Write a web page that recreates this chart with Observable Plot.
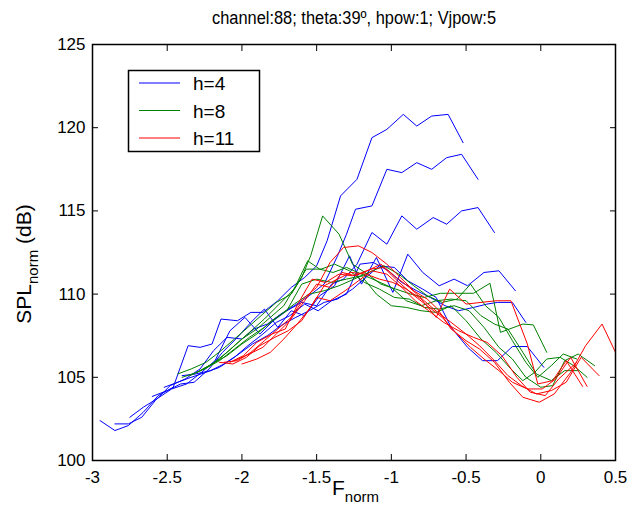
<!DOCTYPE html>
<html>
<head>
<meta charset="utf-8">
<script src="https://cdn.jsdelivr.net/npm/d3@7"></script>
<script src="https://cdn.jsdelivr.net/npm/@observablehq/plot@0.6"></script>
<style>
  html, body { margin: 0; padding: 0; background: #fff; }
  #chart { width: 638px; height: 512px; }
</style>
</head>
<body>
<div id="chart"></div>
<script>
// ---- chart text ----
const titleText = "channel:88; theta:39º, hpow:1; Vjpow:5";
const xTicks = [-3, -2.5, -2, -1.5, -1, -0.5, 0, 0.5];
const yTicks = [100, 105, 110, 115, 120, 125];
const seriesNames = ["h=4", "h=8", "h=11"];
const seriesColors = ["#0000ff", "#008000", "#ff0000"];

// ---- h=4 (blue) lines: [Fnorm, SPLnorm] ----
const blue1 = [[-2.95,102.4],[-2.85,101.8],[-2.76,102.1],[-2.66,102.9],[-2.56,103.9],[-2.46,104.4],[-2.36,106.9],[-2.28,106.8],[-2.2,107.0],[-2.14,108.5],[-2.03,108.4],[-1.94,108.9],[-1.86,108.9],[-1.76,109.6],[-1.67,110.4],[-1.58,111.0],[-1.5,111.7],[-1.43,113.2],[-1.34,115.9],[-1.23,116.9],[-1.13,119.4],[-1.03,119.9],[-0.92,120.8],[-0.83,120.1],[-0.73,120.7],[-0.62,120.8],[-0.52,119.1]];
const blue2 = [[-2.85,102.2],[-2.76,102.2],[-2.67,102.6],[-2.58,103.6],[-2.48,104.5],[-2.38,104.9],[-2.28,105.5],[-2.19,106.6],[-2.1,107.4],[-2.0,107.3],[-1.92,107.9],[-1.83,108.2],[-1.74,108.8],[-1.65,109.3],[-1.55,109.9],[-1.45,110.6],[-1.36,112.3],[-1.3,113.6],[-1.24,115.1],[-1.13,115.3],[-1.03,117.5],[-0.93,117.3],[-0.83,117.9],[-0.73,117.5],[-0.63,118.2],[-0.53,118.4],[-0.42,116.9]];
const blue3 = [[-2.75,102.6],[-2.66,103.2],[-2.57,103.7],[-2.47,104.3],[-2.37,104.6],[-2.27,105.3],[-2.18,106.0],[-2.08,107.8],[-1.98,108.6],[-1.88,107.6],[-1.79,108.4],[-1.7,109.0],[-1.6,109.5],[-1.5,109.3],[-1.4,110.6],[-1.32,110.9],[-1.23,111.8],[-1.13,113.7],[-1.03,113.0],[-0.93,114.7],[-0.83,113.9],[-0.72,114.6],[-0.63,114.2],[-0.53,115.0],[-0.42,115.2],[-0.31,113.7]];
const blue4 = [[-2.6,103.85],[-2.5,104.2],[-2.41,104.6],[-2.32,104.7],[-2.22,105.5],[-2.13,106.5],[-2.03,107.4],[-1.94,108.3],[-1.85,109.1],[-1.76,108.0],[-1.67,109.0],[-1.58,108.7],[-1.48,109.9],[-1.38,110.5],[-1.28,112.3],[-1.2,110.6],[-1.1,112.2],[-0.99,110.1],[-0.89,112.4],[-0.79,111.3],[-0.68,110.5],[-0.58,110.9],[-0.49,110.5],[-0.38,111.3],[-0.28,111.4],[-0.17,110.2]];
const blue5 = [[-2.52,104.4],[-2.43,104.7],[-2.34,105.0],[-2.24,105.3],[-2.15,105.6],[-2.05,106.2],[-1.96,106.9],[-1.86,107.6],[-1.77,108.3],[-1.68,108.7],[-1.58,109.4],[-1.49,109.0],[-1.4,109.6],[-1.3,110.0],[-1.21,111.8],[-1.12,111.9],[-1.02,111.4],[-0.93,110.7],[-0.83,110.2],[-0.74,109.8],[-0.64,109.3],[-0.55,109.0],[-0.45,109.2],[-0.36,109.4],[-0.29,109.5],[-0.19,109.5],[-0.1,108.3]];
const blue6 = [[-2.4,105.1],[-2.31,105.2],[-2.21,105.4],[-2.12,105.8],[-2.02,106.4],[-1.93,107.0],[-1.83,107.5],[-1.74,108.1],[-1.64,108.6],[-1.55,109.0],[-1.45,109.5],[-1.36,109.7],[-1.26,110.3],[-1.17,111.0],[-1.08,111.7],[-0.98,111.6],[-0.89,110.8],[-0.79,110.3],[-0.7,109.8],[-0.6,108.0],[-0.49,106.8],[-0.39,106.0],[-0.29,106.0],[-0.19,106.85],[-0.09,106.85],[0.02,105.6]];

// ---- h=8 (green) lines ----
const green1 = [[-2.43,105.2],[-2.34,105.5],[-2.24,105.9],[-2.14,106.6],[-2.05,107.3],[-1.96,108.0],[-1.86,108.8],[-1.77,109.5],[-1.67,110.0],[-1.6,111.0],[-1.54,112.3],[-1.46,114.7],[-1.35,113.6],[-1.26,111.8],[-1.16,111.2],[-1.07,110.6],[-0.97,110.3],[-0.87,110.0],[-0.78,109.8],[-0.67,110.05],[-0.56,110.05],[-0.45,110.05],[-0.34,110.65],[-0.27,107.7],[-0.18,108.0],[-0.12,108.2],[-0.05,108.15],[0.04,106.5]];
const green2 = [[-2.4,105.0],[-2.3,105.3],[-2.2,105.8],[-2.1,106.5],[-2.0,107.3],[-1.9,107.9],[-1.81,108.6],[-1.72,109.3],[-1.64,110.5],[-1.56,112.0],[-1.48,111.5],[-1.39,111.3],[-1.3,111.6],[-1.2,111.2],[-1.1,110.8],[-1.0,110.4],[-0.9,109.6],[-0.8,109.3],[-0.7,109.6],[-0.6,109.7],[-0.5,109.6],[-0.4,108.7],[-0.31,108.2],[-0.22,107.9],[-0.12,106.5],[-0.03,105.2],[0.07,104.8],[0.16,105.4],[0.25,105.4]];
const green3 = [[-2.35,105.1],[-2.25,105.5],[-2.15,106.1],[-2.05,106.9],[-1.95,107.7],[-1.85,108.5],[-1.75,109.4],[-1.65,110.3],[-1.57,111.5],[-1.47,111.5],[-1.38,111.8],[-1.28,111.4],[-1.18,110.7],[-1.08,110.3],[-0.98,109.8],[-0.88,109.7],[-0.78,109.2],[-0.68,109.1],[-0.58,109.3],[-0.48,109.0],[-0.38,108.0],[-0.28,106.8],[-0.19,106.1],[-0.1,105.0],[0.0,104.4],[0.08,104.5],[0.16,106.0],[0.25,106.4],[0.36,105.7]];
const green4 = [[-2.3,105.3],[-2.2,105.8],[-2.1,106.3],[-2.0,107.0],[-1.9,107.6],[-1.8,108.4],[-1.7,109.0],[-1.6,110.6],[-1.5,110.9],[-1.4,110.7],[-1.3,110.9],[-1.2,111.1],[-1.1,110.0],[-1.0,109.3],[-0.9,109.2],[-0.8,109.0],[-0.7,108.9],[-0.6,109.3],[-0.5,108.4],[-0.4,107.3],[-0.3,106.5],[-0.2,105.5],[-0.12,104.8],[-0.04,105.3],[0.04,106.1],[0.13,106.2],[0.22,105.7],[0.31,105.0]];
const green5 = [[-2.25,105.5],[-2.15,106.0],[-2.05,106.7],[-1.95,107.4],[-1.85,108.0],[-1.75,108.7],[-1.65,109.4],[-1.55,110.0],[-1.45,110.2],[-1.35,110.5],[-1.25,110.9],[-1.15,111.3],[-1.05,111.7],[-0.95,111.2],[-0.85,110.5],[-0.76,109.9],[-0.66,109.5],[-0.56,109.7],[-0.47,110.6],[-0.37,109.3],[-0.28,108.6],[-0.19,107.2],[-0.1,105.9],[-0.02,105.0],[0.07,105.7],[0.15,106.4],[0.24,106.1]];

// ---- h=11 (red) lines ----
const red1 = [[-2.12,105.9],[-2.03,106.0],[-1.94,106.5],[-1.85,107.2],[-1.76,107.9],[-1.67,108.6],[-1.58,109.8],[-1.5,110.4],[-1.41,111.9],[-1.32,112.8],[-1.22,112.9],[-1.13,112.5],[-1.03,111.8],[-0.94,111.0],[-0.85,110.2],[-0.76,109.7],[-0.69,109.1],[-0.6,107.9],[-0.5,107.2],[-0.41,106.7],[-0.31,105.9],[-0.21,104.7],[-0.12,103.8],[-0.01,103.5],[0.09,104.0],[0.2,105.3],[0.3,106.9],[0.41,108.2],[0.5,106.5]];
const red2 = [[-2.08,105.9],[-1.99,106.3],[-1.9,107.1],[-1.8,107.6],[-1.71,107.9],[-1.62,109.5],[-1.53,110.9],[-1.44,110.7],[-1.35,111.2],[-1.26,111.1],[-1.16,111.4],[-1.07,111.8],[-0.98,111.1],[-0.88,110.4],[-0.78,109.6],[-0.69,108.9],[-0.6,108.3],[-0.5,107.6],[-0.41,106.9],[-0.31,106.0],[-0.22,105.1],[-0.13,104.5],[-0.03,104.0],[0.07,104.2],[0.17,104.7],[0.27,106.2],[0.39,105.1]];
const red3 = [[-2.05,106.0],[-1.95,106.4],[-1.86,106.8],[-1.77,107.6],[-1.68,108.4],[-1.58,109.6],[-1.5,110.6],[-1.41,110.4],[-1.33,111.3],[-1.24,111.1],[-1.14,111.5],[-1.05,111.6],[-0.96,110.8],[-0.86,110.0],[-0.76,109.3],[-0.66,108.6],[-0.56,107.6],[-0.47,106.8],[-0.38,106.1],[-0.28,105.4],[-0.19,104.7],[-0.09,104.3],[0.01,104.3],[0.1,104.9],[0.2,106.2],[0.31,104.45]];
const red4 = [[-2.0,105.8],[-1.9,106.1],[-1.81,106.5],[-1.72,107.3],[-1.63,108.2],[-1.54,109.2],[-1.45,110.5],[-1.36,110.9],[-1.27,111.3],[-1.17,111.2],[-1.08,110.9],[-0.99,110.7],[-0.9,110.3],[-0.8,109.7],[-0.7,108.6],[-0.61,110.3],[-0.5,109.4],[-0.4,109.5],[-0.3,109.6],[-0.2,109.6],[-0.09,107.0],[-0.02,104.6],[0.08,104.8],[0.17,106.0],[0.28,104.45]];
const red5 = [[-2.15,105.9],[-2.06,105.8],[-1.97,106.2],[-1.88,106.9],[-1.78,107.4],[-1.69,107.8],[-1.6,108.4],[-1.5,109.8],[-1.41,109.6],[-1.31,110.2],[-1.22,110.8],[-1.13,111.4],[-1.03,111.2],[-0.93,110.4],[-0.84,109.6],[-0.75,109.0],[-0.65,108.3],[-0.55,107.8],[-0.45,107.4],[-0.36,107.1],[-0.26,106.3],[-0.16,105.0],[-0.07,104.1],[0.03,103.9],[0.12,104.9],[0.24,105.9]];

const seriesLines = [
  ["h=4", [blue1, blue2, blue3, blue4, blue5, blue6]],
  ["h=8", [green1, green2, green3, green4, green5]],
  ["h=11", [red1, red2, red3, red4, red5]]
];

const rows = [];
seriesLines.forEach(([name, lines]) => {
  lines.forEach((pts, i) => {
    pts.forEach(([x, y]) => rows.push({series: name, id: name + "-" + i, x, y}));
  });
});

const fmt = d => String(d);

const chart = Plot.plot({
  width: 638,
  height: 512,
  marginLeft: 92,
  marginRight: 23,
  marginTop: 44,
  marginBottom: 52,
  style: {fontFamily: "'Liberation Sans', Arial, sans-serif", fontSize: "17px", background: "#fff", color: "#000", overflow: "visible"},
  x: {domain: [-3, 0.5]},
  y: {domain: [100, 125]},
  color: {domain: seriesNames, range: seriesColors},
  marks: [
    Plot.line(rows, {x: "x", y: "y", z: "id", stroke: "series", strokeWidth: 1}),
    Plot.frame({stroke: "#000", strokeWidth: 1.5}),
    Plot.axisX({anchor: "bottom", ticks: xTicks, tickSize: -6, tickPadding: 16, tickFormat: fmt, label: null}),
    Plot.axisX({anchor: "top", ticks: xTicks, tickSize: -6, tickFormat: () => "", label: null}),
    Plot.axisY({anchor: "left", ticks: yTicks, tickSize: -6, tickPadding: 13, tickFormat: fmt, label: null}),
    Plot.axisY({anchor: "right", ticks: yTicks, tickSize: -6, tickFormat: () => "", label: null})
  ]
});

document.getElementById("chart").appendChild(chart);

// ---- title, axis labels, legend ----
const svg = d3.select(chart);
const font = "'Liberation Sans', Arial, sans-serif";

svg.append("text")
  .attr("x", 354).attr("y", 24)
  .attr("text-anchor", "middle")
  .attr("font-family", font).attr("font-size", 18)
  .attr("textLength", 284).attr("lengthAdjust", "spacingAndGlyphs")
  .attr("fill", "#000")
  .text(titleText);

const xl = svg.append("text")
  .attr("x", 332).attr("y", 495)
  .attr("text-anchor", "start")
  .attr("font-family", font).attr("font-size", 21).attr("fill", "#000");
xl.append("tspan").text("F");
xl.append("tspan").attr("font-size", 15).attr("dy", 7).text("norm");

const yl = svg.append("text")
  .attr("transform", "translate(31,264) rotate(-90)")
  .attr("text-anchor", "middle")
  .attr("font-family", font).attr("font-size", 21).attr("fill", "#000");
yl.append("tspan").text("SPL");
yl.append("tspan").attr("font-size", 15).attr("dy", 7).text("norm");
yl.append("tspan").attr("dy", -7).text("\u00a0(dB)");

const lg = svg.append("g");
lg.append("rect")
  .attr("x", 128.5).attr("y", 70.5).attr("width", 131).attr("height", 81)
  .attr("fill", "#fff").attr("stroke", "#000").attr("stroke-width", 1.5);
seriesNames.forEach((name, i) => {
  const yy = 83 + i * 27.5;
  lg.append("line")
    .attr("x1", 139).attr("x2", 180).attr("y1", yy).attr("y2", yy)
    .attr("stroke", seriesColors[i]).attr("stroke-width", 1);
  lg.append("text")
    .attr("x", 193).attr("y", yy + 7)
    .attr("text-anchor", "start")
    .attr("font-family", font).attr("font-size", 19).attr("fill", "#000")
    .text(name);
});
</script>
</body>
</html>
